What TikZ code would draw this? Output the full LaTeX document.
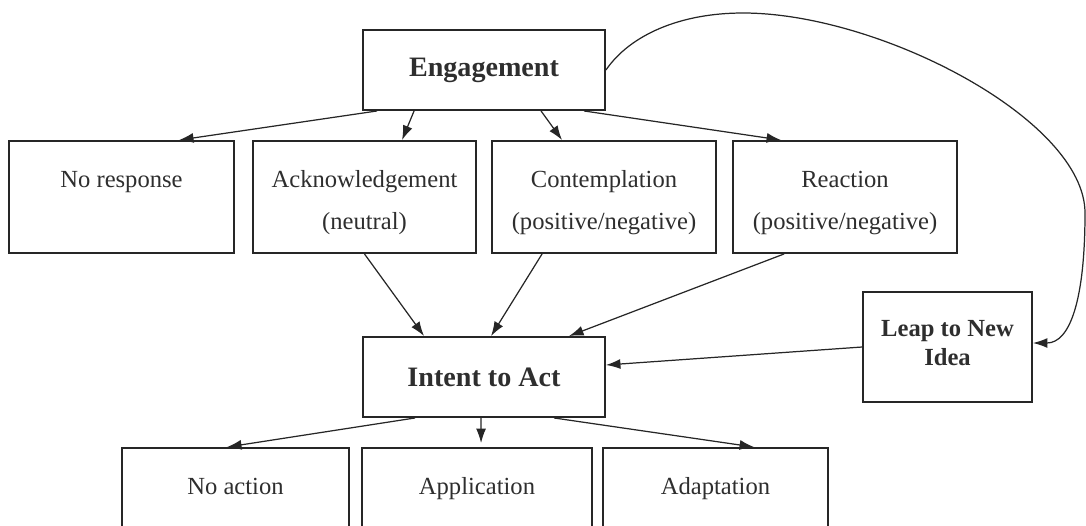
\documentclass[tikz,border=0pt]{standalone}
\usepackage{fontspec}
\setmainfont{Liberation Serif}
\usetikzlibrary{calc,arrows.meta}
\begin{document}
\begin{tikzpicture}[x=0.02cm,y=-0.02cm,font=\fontsize{14}{24}\selectfont,
  frame/.style={draw=boxline,line width=1.1pt,text=inkgray,align=center,inner sep=0pt},
  box/.style={frame,text height=40.5pt,text depth=3pt},
  headbox/.style={frame,font=\bfseries\fontsize{16}{19}\selectfont},
  link/.style={draw=boxline,line width=0.7pt,-{Latex[length=2.9mm,width=2mm]}}]
\definecolor{boxline}{HTML}{262626}
\definecolor{inkgray}{HTML}{2E2E2E}
\clip (0,0) rectangle (1086,525);
\node[headbox,minimum width=4.84cm,minimum height=1.6cm] (eng) at (484,70) {Engagement};
\node[box,minimum width=4.5cm,minimum height=2.24cm] (nores) at (121.5,197) {No response\\\phantom{(}};
\node[box,minimum width=4.46cm,minimum height=2.24cm] (ack) at (364.5,197) {Acknowledgement\\(neutral)};
\node[box,minimum width=4.48cm,minimum height=2.24cm] (cont) at (604,197) {Contemplation\\(positive/negative)};
\node[box,minimum width=4.48cm,minimum height=2.24cm] (reac) at (845,197) {Reaction\\(positive/negative)};
\node[headbox,font=\bfseries\fontsize{14}{16.5}\selectfont,minimum width=3.38cm,minimum height=2.2cm,
  execute at end node={\rule[-5pt]{0pt}{5pt}}] (leap) at (947.5,347) {Leap to New\\Idea};
\node[headbox,minimum width=4.84cm,minimum height=1.6cm] (intent) at (484,377) {Intent to Act};
\node[box,minimum width=4.54cm,minimum height=2.24cm] (noact) at (235.5,504) {No action\\\phantom{(}};
\node[box,minimum width=4.6cm,minimum height=2.24cm] (appl) at (477,504) {Application\\\phantom{(}};
\node[box,minimum width=4.5cm,minimum height=2.24cm] (adap) at (715.5,504) {Adaptation\\\phantom{(}};
% engagement to the four responses
\draw[link] ($(eng.south west)+(15,0)$) -- ($(nores.north west)+(171,0)$);
\draw[link] ($(eng.south west)+(52,0)$) -- ($(ack.north west)+(150,0)$);
\draw[link] ($(eng.south west)+(179,0)$) -- ($(cont.north west)+(71,0)$);
\draw[link] ($(eng.south west)+(222,0)$) -- ($(reac.north west)+(49,0)$);
% responses to intent
\draw[link] (ack.south) -- ($(intent.north west)+(62,0)$);
\draw[link] ($(cont.south west)+(51,0)$) -- ($(intent.north west)+(129,0)$);
\draw[link] ($(reac.south west)+(52,0)$) -- ($(intent.north west)+(207,0)$);
\draw[link] (leap.west) -- ($(intent.east)+(0,-12)$);
% intent to outcomes
\draw[link] ($(intent.south west)+(53,0)$) -- ($(noact.north west)+(106,0)$);
\draw[link] ($(intent.south west)+(119,0)$) -- ($(appl.north west)+(120,-4)$);
\draw[link] ($(intent.south west)+(192,0)$) -- ($(adap.north west)+(152,0)$);
% the leap
\coordinate (arctop) at (743,13);
\coordinate (arcright) at (1085,213);
\draw[link] (eng.east) .. controls (630,35) and (680,13) .. (arctop)
  .. controls (880,13) and (1085,120) .. (arcright)
  .. controls (1085,300) and (1070,343) .. ($(leap.east)+(0,-4)$);
\end{tikzpicture}
\end{document}
